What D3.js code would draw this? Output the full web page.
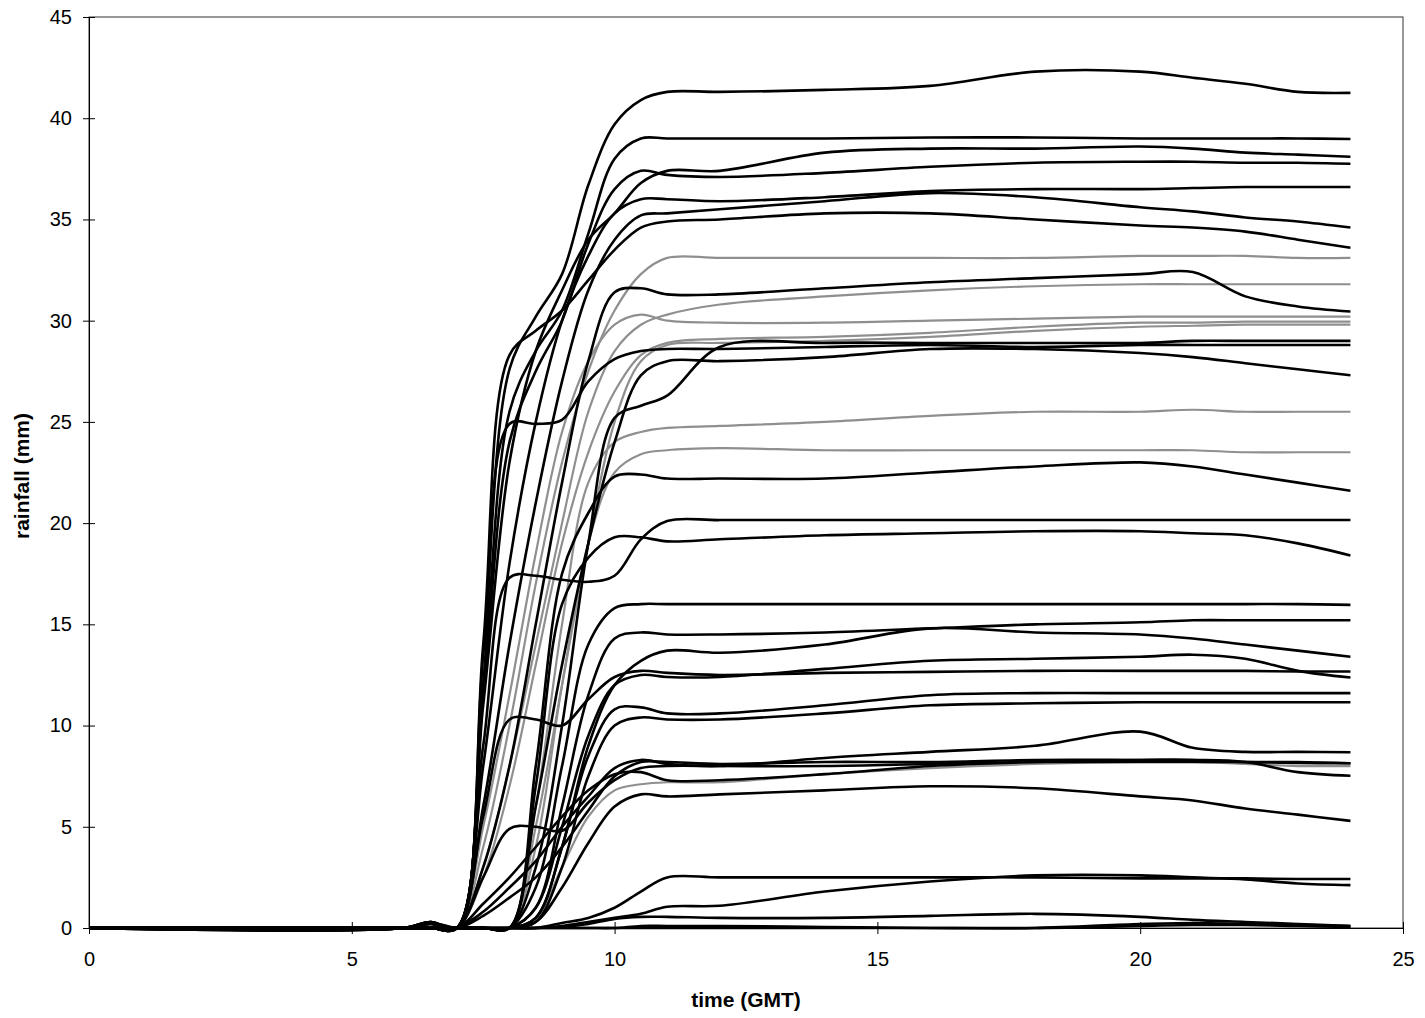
<!DOCTYPE html>
<html>
<head>
<meta charset="utf-8">
<script src="https://cdn.jsdelivr.net/npm/d3@7.9.0/dist/d3.min.js"></script>
<style>
  body { margin: 0; background: #fff; }
  svg { display: block; font-family: "Liberation Sans", Arial, sans-serif; }
  .tick text { font-size: 20px; fill: #000; }
  .axis-title { font-size: 21px; font-weight: bold; }
</style>
</head>
<body>
<svg id="chart" width="1425" height="1018"></svg>
<script>
// sample times (GMT hours) shared by every gauge
const hours = [0, 6, 6.5, 7, 7.5, 8, 8.5, 9, 9.5, 10, 10.5, 11, 12, 14, 16, 18, 20, 21, 22, 23, 24];

// cumulative rainfall (mm), one row per gauge drawn in black
const blackGauges = [
  [0, 0, 0.3, 0, 13.5, 27.6, 30.2, 32.3, 36.7, 39.7, 40.9, 41.3, 41.3, 41.4, 41.6, 42.3, 42.3, 42.0, 41.7, 41.3, 41.25],
  [0, 0, 0, 0, 12, 25.5, 28.5, 30.5, 34.3, 38.0, 39.0, 39.0, 39.0, 39.0, 39.05, 39.05, 39.0, 39.0, 39.0, 39.0, 38.97],
  [0, 0, 0, 0, 11, 23, 28.5, 31.5, 34, 35.3, 36.8, 37.4, 37.4, 38.3, 38.5, 38.5, 38.6, 38.5, 38.3, 38.2, 38.1],
  [0, 0, 0, 0, 11.5, 24, 27.5, 30, 33.8, 36.5, 37.4, 37.2, 37.1, 37.3, 37.6, 37.8, 37.85, 37.85, 37.8, 37.8, 37.75],
  [0, 0, 0, 0, 8, 18, 25, 30, 33.2, 35.3, 36.0, 36.0, 35.9, 36.1, 36.4, 36.5, 36.5, 36.55, 36.6, 36.6, 36.6],
  [0, 0, 0, 0, 6, 14, 21, 27, 31.5, 34, 35.2, 35.3, 35.5, 35.9, 36.3, 36.1, 35.6, 35.4, 35.1, 34.9, 34.6],
  [0, 0, 0.3, 0, 14, 28.3, 29.5, 30.5, 32, 33.5, 34.6, 34.9, 35.0, 35.3, 35.3, 35.0, 34.7, 34.6, 34.4, 34.0, 33.6],
  [0, 0, 0, 0, 3, 8, 15, 22, 28, 31.4, 31.6, 31.3, 31.3, 31.6, 31.9, 32.1, 32.3, 32.4, 31.2, 30.7, 30.45],
  [0, 0, 0, 0, 12, 24.9, 24.9, 25.1, 27, 28.1, 28.5, 28.6, 28.6, 28.7, 28.8, 28.7, 28.8, 28.8, 28.8, 28.8, 28.8],
  [0, 0, 0, 0, 0, 0, 3, 10, 19, 25.2, 25.8, 26.3, 28.7, 28.9, 28.9, 28.9, 28.9, 29.0, 29.0, 29.0, 29.0],
  [0, 0, 0, 0, 0, 0, 6, 13, 19, 24, 27.3, 28.0, 28.0, 28.2, 28.6, 28.6, 28.4, 28.2, 27.9, 27.6, 27.3],
  [0, 0, 0, 0, 0, 0, 8, 17.5, 20.5, 22.3, 22.4, 22.2, 22.2, 22.2, 22.5, 22.8, 23.0, 22.8, 22.4, 22.0, 21.6],
  [0, 0, 0.2, 0, 9, 17.3, 17.4, 17.2, 17.1, 17.4, 19.2, 20.1, 20.15, 20.15, 20.15, 20.15, 20.15, 20.15, 20.15, 20.15, 20.15],
  [0, 0, 0, 0, 0, 0, 7, 16, 18.3, 19.3, 19.3, 19.1, 19.2, 19.4, 19.5, 19.6, 19.6, 19.5, 19.4, 19.0, 18.4],
  [0, 0, 0, 0, 0, 0, 2, 8, 14, 15.8, 16.0, 16.0, 16.0, 16.0, 16.0, 16.0, 16.0, 16.0, 16.0, 16.0, 15.96],
  [0, 0, 0, 0, 0, 0, 1, 6, 11.5, 14.3, 14.6, 14.5, 14.5, 14.6, 14.8, 15.0, 15.1, 15.2, 15.2, 15.2, 15.2],
  [0, 0, 0, 0, 0, 0, 0.5, 4, 9, 12, 13.2, 13.7, 13.6, 14.0, 14.8, 14.6, 14.5, 14.3, 14.0, 13.7, 13.4],
  [0, 0, 0, 0, 0, 0, 1, 5, 9.5, 12, 12.5, 12.4, 12.4, 12.8, 13.2, 13.3, 13.4, 13.5, 13.3, 12.7, 12.37],
  [0, 0, 0.2, 0, 5.5, 10.3, 10.3, 10.0, 11.3, 12.4, 12.7, 12.6, 12.5, 12.6, 12.65, 12.7, 12.7, 12.7, 12.7, 12.67, 12.67],
  [0, 0, 0, 0, 0, 0, 0.5, 4, 8.5, 10.8, 10.9, 10.6, 10.6, 11.0, 11.5, 11.6, 11.6, 11.6, 11.6, 11.6, 11.6],
  [0, 0, 0, 0, 0, 0, 0.3, 3, 7.5, 10.0, 10.4, 10.3, 10.3, 10.6, 11.0, 11.1, 11.15, 11.15, 11.15, 11.15, 11.15],
  [0, 0, 0, 0, 0.8, 2, 3.3, 5, 6.5, 7.9, 8.3, 8.1, 8.0, 8.4, 8.7, 9.0, 9.7, 8.9, 8.7, 8.7, 8.68],
  [0, 0, 0.3, 0, 1.2, 2.5, 4, 5.5, 6.8, 7.6, 7.7, 7.3, 7.3, 7.6, 8.0, 8.2, 8.3, 8.3, 8.2, 8.2, 8.14],
  [0, 0, 0.25, 0, 0.6, 1.5, 2.5, 4, 5.8, 7.5, 8.2, 8.2, 8.1, 8.2, 8.2, 8.3, 8.3, 8.3, 8.2, 7.7, 7.52],
  [0, 0, 0, 0, 0, 0, 0.3, 2, 4.2, 6, 6.6, 6.5, 6.6, 6.8, 7.0, 6.9, 6.5, 6.3, 5.9, 5.6, 5.29],
  [0, 0, 0.3, 0, 2.5, 4.9, 5.0, 4.8, 6.2, 7.3, 7.9, 8.0, 8.0, 8.0, 8.1, 8.2, 8.2, 8.2, 8.2, 8.15, 8.14],
  [0, 0, 0, 0, 0, 0, 0, 0.25, 0.5, 1.0, 1.8, 2.5, 2.5, 2.5, 2.5, 2.5, 2.45, 2.45, 2.45, 2.42, 2.42],
  [0, 0, 0, 0, 0, 0, 0, 0.1, 0.3, 0.5, 0.7, 1.05, 1.1, 1.8, 2.3, 2.6, 2.6, 2.5, 2.4, 2.2, 2.12],
  [0, 0, 0, 0, 0, 0, 0, 0.05, 0.2, 0.45, 0.55, 0.55, 0.5, 0.5, 0.6, 0.7, 0.55, 0.4, 0.3, 0.2, 0.1],
  [0, 0, 0, 0, 0, 0, 0, 0, 0, 0, 0, 0, 0, 0, 0, 0, 0.1, 0.15, 0.15, 0.1, 0.05],
  [0, 0, 0.25, 0, 0, 0, 0, 0, 0, 0, 0.1, 0.1, 0.1, 0.05, 0, 0, 0.2, 0.25, 0.2, 0.15, 0.1]
];

// gauges printed in grey
const greyGauges = [
  [0, 0, 0, 0, 4, 10, 17, 23, 27.5, 30.5, 32.3, 33.1, 33.1, 33.1, 33.1, 33.1, 33.2, 33.2, 33.2, 33.1, 33.1],
  [0, 0, 0, 0, 3, 8, 14, 20, 25.5, 28.5, 29.8, 30.3, 30.8, 31.2, 31.5, 31.7, 31.8, 31.8, 31.8, 31.8, 31.8],
  [0, 0, 0, 0, 5, 11.5, 18.5, 24.5, 28, 29.8, 30.3, 30.0, 29.9, 29.9, 30.0, 30.1, 30.2, 30.2, 30.2, 30.2, 30.2],
  [0, 0, 0, 0, 2.5, 7, 13, 19, 23.5, 26.5, 28.3, 28.9, 29.1, 29.2, 29.4, 29.7, 29.9, 29.9, 29.95, 29.95, 29.95],
  [0, 0, 0, 0, 0, 0, 5, 12, 19, 25, 28, 28.8, 28.9, 29.0, 29.2, 29.5, 29.7, 29.75, 29.8, 29.8, 29.8],
  [0, 0, 0, 0, 0, 0, 6, 15, 22, 24, 24.5, 24.7, 24.8, 25.0, 25.3, 25.5, 25.5, 25.6, 25.5, 25.5, 25.5],
  [0, 0, 0, 0, 0, 0, 4, 12, 19, 22.5, 23.4, 23.6, 23.7, 23.6, 23.6, 23.6, 23.6, 23.6, 23.5, 23.5, 23.5],
  [0, 0, 0, 0, 0, 0, 0.5, 3, 5.5, 6.8, 7.1, 7.2, 7.2, 7.6, 7.9, 8.1, 8.2, 8.2, 8.1, 8.0, 8.0]
];

const xTicks = [0, 5, 10, 15, 20, 25];
const yTicks = [0, 5, 10, 15, 20, 25, 30, 35, 40, 45];

const plotLeft = 89, plotRight = 1403, plotTop = 17, plotBottom = 928;

let svg = d3.select('#chart');

let x = d3.scaleLinear().domain([0, 25]).range([plotLeft, plotRight]);
let y = d3.scaleLinear().domain([0, 45]).range([plotBottom, plotTop]);

// plot area border
svg.append('rect')
  .attr('x', plotLeft).attr('y', plotTop)
  .attr('width', plotRight - plotLeft).attr('height', plotBottom - plotTop)
  .attr('fill', 'none').attr('stroke', '#333').attr('stroke-width', 1);

let line = d3.line()
  .x((d, i) => x(hours[i]))
  .y((d) => y(d))
  .curve(d3.curveCatmullRom.alpha(0.5));

let plot = svg.append('g');

greyGauges.forEach((row) => {
  plot.append('path')
    .attr('d', line(row))
    .attr('fill', 'none')
    .attr('stroke', '#8f8f8f')
    .attr('stroke-width', 2.2);
});

blackGauges.forEach((row) => {
  plot.append('path')
    .attr('d', line(row))
    .attr('fill', 'none')
    .attr('stroke', '#000')
    .attr('stroke-width', 2.6);
});

// axes, with ticks crossing the axis line like the original
let yAxis = svg.append('g')
  .attr('transform', `translate(${plotLeft},0)`)
  .call(d3.axisLeft(y).tickValues(yTicks).tickSize(6).tickPadding(11));
yAxis.selectAll('.tick line').attr('x1', 6);

let xAxis = svg.append('g')
  .attr('transform', `translate(0,${plotBottom})`)
  .call(d3.axisBottom(x).tickValues(xTicks).tickSize(6).tickPadding(18));
xAxis.selectAll('.tick line').attr('y1', -6);

svg.selectAll('.domain').attr('stroke', '#000');
svg.selectAll('.tick line').attr('stroke', '#000');

svg.append('text')
  .attr('class', 'axis-title')
  .attr('text-anchor', 'middle')
  .attr('transform', 'translate(29,476) rotate(-90)')
  .text('rainfall (mm)');

svg.append('text')
  .attr('class', 'axis-title')
  .attr('text-anchor', 'middle')
  .attr('x', 746)
  .attr('y', 1007)
  .text('time (GMT)');
</script>
</body>
</html>
